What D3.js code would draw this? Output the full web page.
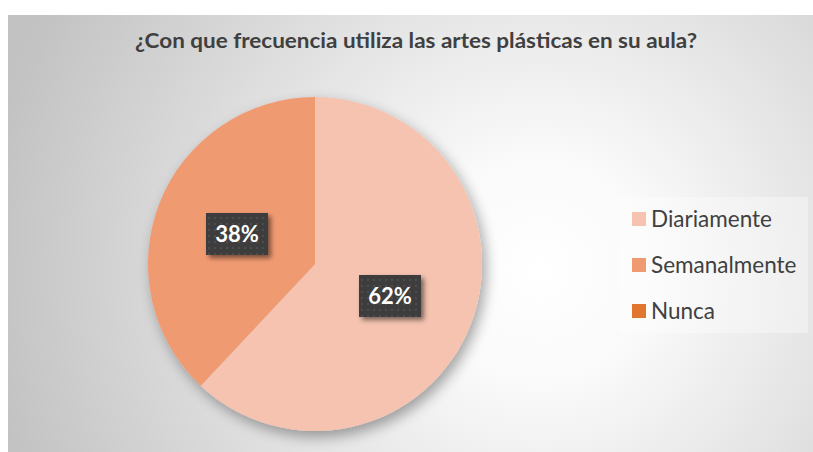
<!DOCTYPE html>
<html><head><meta charset="utf-8">
<script src="https://cdn.jsdelivr.net/npm/d3@7"></script>
<style>body{margin:0;background:#fff;}svg{display:block;}</style>
</head><body>
<svg id="c" width="813" height="452"></svg>
<script>
const title = "¿Con que frecuencia utiliza las artes plásticas en su aula?";
const categories = ["Diariamente", "Semanalmente", "Nunca"];
const values = [62, 38, 0];
const labels = ["62%", "38%", ""];
const colors = ["#F5C3B0", "#F09A72", "#E0762F"];

const svg = d3.select("#c");
const defs = svg.append("defs");
const rg = defs.append("radialGradient").attr("id","bg").attr("gradientUnits","userSpaceOnUse")
  .attr("cx",540).attr("cy",270).attr("r",560);
rg.append("stop").attr("offset","0").attr("stop-color","#ffffff");
rg.append("stop").attr("offset","0.2").attr("stop-color","#fafafa");
rg.append("stop").attr("offset","1").attr("stop-color","#c2c2c2");

const f = defs.append("filter").attr("id","sh").attr("x","-30%").attr("y","-30%").attr("width","160%").attr("height","160%");
f.append("feGaussianBlur").attr("in","SourceAlpha").attr("stdDeviation",7);
f.append("feOffset").attr("dx",4).attr("dy",6).attr("result","o");
f.append("feComponentTransfer").append("feFuncA").attr("type","linear").attr("slope",0.35);
const m = f.append("feMerge"); m.append("feMergeNode"); m.append("feMergeNode").attr("in","SourceGraphic");

const f2 = defs.append("filter").attr("id","sh2").attr("x","-30%").attr("y","-30%").attr("width","160%").attr("height","160%");
f2.append("feGaussianBlur").attr("in","SourceAlpha").attr("stdDeviation",2.5);
f2.append("feOffset").attr("dx",3).attr("dy",3).attr("result","o");
f2.append("feComponentTransfer").append("feFuncA").attr("type","linear").attr("slope",0.5);
const m2 = f2.append("feMerge"); m2.append("feMergeNode"); m2.append("feMergeNode").attr("in","SourceGraphic");

const pat = defs.append("pattern").attr("id","dots").attr("width",6).attr("height",6).attr("patternUnits","userSpaceOnUse");
pat.append("rect").attr("width",6).attr("height",6).attr("fill","#3c3c3c");
pat.append("rect").attr("x",1).attr("y",1).attr("width",2).attr("height",2).attr("fill","#4d4d4d");

svg.append("rect").attr("x",8).attr("y",15).attr("width",805).attr("height",437).attr("fill","url(#bg)");

svg.append("text").attr("x",416).attr("y",48).attr("text-anchor","middle")
  .attr("font-family","Lato, 'Open Sans', sans-serif").attr("font-weight","bold").attr("font-size",21.5)
  .attr("textLength",562).attr("lengthAdjust","spacingAndGlyphs")
  .attr("fill","#404040").text(title);

const cx = 315, cy = 264, r = 167;
const pie = d3.pie().sort(null).value(d => d)(values);
const arc = d3.arc().innerRadius(0).outerRadius(r);
const g = svg.append("g").attr("transform",`translate(${cx},${cy})`);
g.append("g").attr("filter","url(#sh)").selectAll("path").data(pie).join("path")
  .attr("d",arc).attr("fill",(d,i)=>colors[i]);

const lpos = [[75, 32], [-78, -30]];
pie.forEach((d,i) => {
  if (!labels[i]) return;
  const lg = g.append("g").attr("transform",`translate(${lpos[i][0]},${lpos[i][1]})`);
  lg.append("rect").attr("x",-31).attr("y",-21).attr("width",62).attr("height",42)
    .attr("fill","url(#dots)").attr("filter","url(#sh2)");
  lg.append("text").attr("text-anchor","middle").attr("y",8)
    .attr("font-family","Lato, 'Open Sans', sans-serif").attr("font-weight","bold").attr("font-size",22)
    .attr("fill","#ffffff").text(labels[i]);
});

const leg = svg.append("g");
leg.append("rect").attr("x",620).attr("y",197).attr("width",188).attr("height",136).attr("fill","#ffffff").attr("opacity",0.35);
categories.forEach((c,i) => {
  const y = 219 + i*46;
  leg.append("rect").attr("x",632).attr("y",y-7).attr("width",14).attr("height",14).attr("fill",colors[i]);
  leg.append("text").attr("x",651).attr("y",y+8)
    .attr("font-family","Lato, 'Open Sans', sans-serif").attr("font-size",22.5).attr("fill","#404040").text(c);
});
</script>
</body></html>
